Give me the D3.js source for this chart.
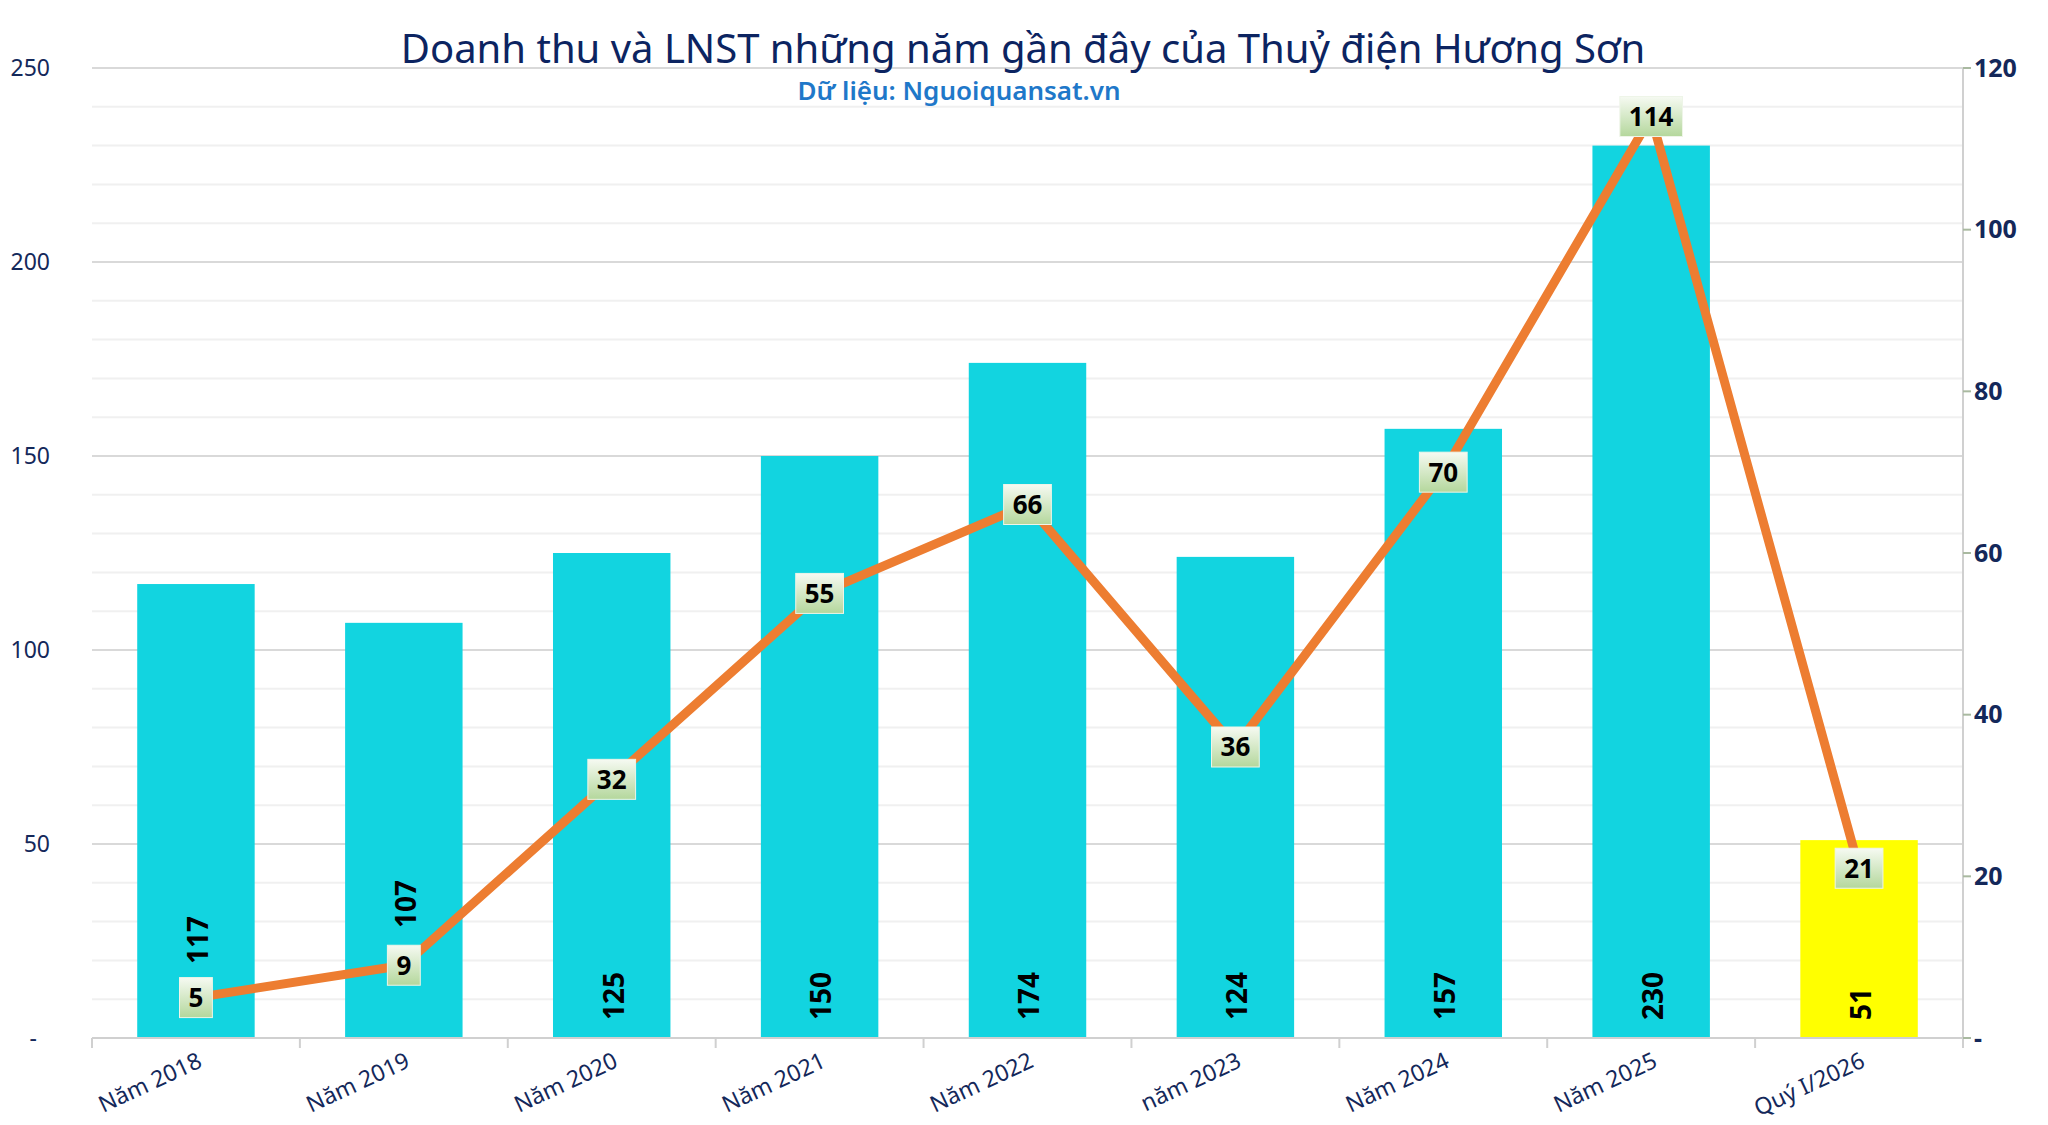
<!DOCTYPE html>
<html>
<head>
<meta charset="utf-8">
<script src="https://cdnjs.cloudflare.com/ajax/libs/d3/7.8.5/d3.min.js"></script>
<style>
  html, body { margin: 0; padding: 0; background: #fff; }
  svg { display: block; font-family: "Noto Sans", sans-serif; }
</style>
</head>
<body>
<div id="chart"></div>
<script>
const width = 2048;
const height = 1125;
const margin = { top: 68, right: 85, bottom: 87, left: 92 };

const categories = ["Năm 2018", "Năm 2019", "Năm 2020", "Năm 2021", "Năm 2022", "năm 2023", "Năm 2024", "Năm 2025", "Quý I/2026"];
const revenue = [117, 107, 125, 150, 174, 124, 157, 230, 51];
const profit = [5, 9, 32, 55, 66, 36, 70, 114, 21];
const leftTicks = [0, 50, 100, 150, 200, 250];
const rightTicks = [0, 20, 40, 60, 80, 100, 120];

// bar labels pushed up where the line labels sit
const barLabelLift = [56, 92, 0, 0, 0, 0, 0, 0, 0];

const innerW = width - margin.left - margin.right;
const innerH = height - margin.top - margin.bottom;

const svg = d3
  .select("#chart")
  .append("svg")
  .attr("width", width)
  .attr("height", height);

const defs = svg.append("defs");
const grad = defs
  .append("linearGradient")
  .attr("id", "labelGrad")
  .attr("x1", 0).attr("y1", 0).attr("x2", 0).attr("y2", 1);
grad.append("stop").attr("offset", "0%").attr("stop-color", "#f6faf2");
grad.append("stop").attr("offset", "100%").attr("stop-color", "#b4d79c");

const g = svg.append("g").attr("transform", `translate(${margin.left},${margin.top})`);

const x = d3.scaleBand().domain(categories).range([0, innerW]).paddingInner(0.435).paddingOuter(0.2175);
const yL = d3.scaleLinear().domain([0, 250]).range([innerH, 0]);
const yR = d3.scaleLinear().domain([0, 120]).range([innerH, 0]);

// gridlines
g.append("g")
  .selectAll("line")
  .data(d3.range(10, 250, 10).filter((v) => v % 50 !== 0))
  .enter()
  .append("line")
  .attr("x1", 0)
  .attr("x2", innerW)
  .attr("y1", (d) => yL(d))
  .attr("y2", (d) => yL(d))
  .attr("stroke", "#f0f0f0")
  .attr("stroke-width", 2);

g.append("g")
  .selectAll("line")
  .data(leftTicks.filter((v) => v > 0))
  .enter()
  .append("line")
  .attr("x1", 0)
  .attr("x2", innerW)
  .attr("y1", (d) => yL(d))
  .attr("y2", (d) => yL(d))
  .attr("stroke", "#d9d9d9")
  .attr("stroke-width", 2);

// left axis labels
g.append("g")
  .selectAll("text")
  .data(leftTicks)
  .enter()
  .append("text")
  .attr("x", (d) => (d === 0 ? -55 : -42))
  .attr("y", (d) => yL(d))
  .attr("dy", "0.35em")
  .attr("text-anchor", "end")
  .attr("fill", "#14285a")
  .style("font-size", "23px")
  .text((d) => (d === 0 ? "-" : d));

// bars
g.selectAll(".bar")
  .data(revenue)
  .enter()
  .append("rect")
  .attr("class", "bar")
  .attr("x", (d, i) => x(categories[i]))
  .attr("y", (d) => yL(d))
  .attr("width", x.bandwidth())
  .attr("height", (d) => innerH - yL(d))
  .attr("fill", (d, i) => (i === categories.length - 1 ? "#ffff00" : "#12d4e0"));

// bar value labels (rotated, inside base)
g.selectAll(".barlabel")
  .data(revenue)
  .enter()
  .append("text")
  .attr("class", "barlabel")
  .attr("transform", (d, i) => `translate(${x(categories[i]) + x.bandwidth() / 2 + 2},${innerH - 18 - barLabelLift[i]}) rotate(-90)`)
  .attr("dy", "0.35em")
  .attr("text-anchor", "start")
  .attr("fill", "#000")
  .style("font-size", "28px")
  .style("font-weight", "bold")
  .text((d) => d);

// x axis
g.append("line")
  .attr("x1", 0)
  .attr("x2", innerW)
  .attr("y1", innerH)
  .attr("y2", innerH)
  .attr("stroke", "#d0d0d0")
  .attr("stroke-width", 2);

g.append("g")
  .selectAll("line")
  .data(d3.range(categories.length + 1))
  .enter()
  .append("line")
  .attr("x1", (i) => (innerW / categories.length) * i)
  .attr("x2", (i) => (innerW / categories.length) * i)
  .attr("y1", innerH)
  .attr("y2", innerH + 10)
  .attr("stroke", "#d0d0d0")
  .attr("stroke-width", 2);

g.append("g")
  .selectAll("text")
  .data(categories)
  .enter()
  .append("text")
  .attr("transform", (d) => `translate(${x(d) + x.bandwidth() / 2 + 4},${innerH + 21}) rotate(-25)`)
  .attr("text-anchor", "end")
  .attr("dy", "0.35em")
  .attr("fill", "#14285a")
  .style("font-size", "23px")
  .text((d) => d);

// right axis
g.append("line")
  .attr("x1", innerW)
  .attr("x2", innerW)
  .attr("y1", 0)
  .attr("y2", innerH)
  .attr("stroke", "#d0d0d0")
  .attr("stroke-width", 2);

g.append("g")
  .selectAll("line")
  .data(rightTicks)
  .enter()
  .append("line")
  .attr("x1", innerW)
  .attr("x2", innerW + 8)
  .attr("y1", (d) => yR(d))
  .attr("y2", (d) => yR(d))
  .attr("stroke", "#a9b9a0")
  .attr("stroke-width", 2);

g.append("g")
  .selectAll("text")
  .data(rightTicks)
  .enter()
  .append("text")
  .attr("x", innerW + 11)
  .attr("y", (d) => yR(d))
  .attr("dy", "0.35em")
  .attr("text-anchor", "start")
  .attr("fill", "#14285a")
  .style("font-size", "25px")
  .style("font-weight", "bold")
  .text((d) => (d === 0 ? "-" : d));

// profit line
const line = d3
  .line()
  .x((d, i) => x(categories[i]) + x.bandwidth() / 2)
  .y((d) => yR(d));

g.append("path")
  .datum(profit)
  .attr("d", line)
  .attr("fill", "none")
  .attr("stroke", "#ed7d31")
  .attr("stroke-width", 9)
  .attr("stroke-linejoin", "round");

// line labels
const labels = g
  .selectAll(".ptlabel")
  .data(profit)
  .enter()
  .append("g")
  .attr("class", "ptlabel")
  .attr("transform", (d, i) => `translate(${x(categories[i]) + x.bandwidth() / 2},${yR(d)})`);

labels
  .append("text")
  .attr("dy", "0.36em")
  .attr("text-anchor", "middle")
  .attr("fill", "#000")
  .style("font-size", "26px")
  .style("font-weight", "bold")
  .text((d) => d);

labels.each(function () {
  const grp = d3.select(this);
  const w = grp.select("text").node().getComputedTextLength() + 18;
  grp
    .insert("rect", "text")
    .attr("x", -w / 2)
    .attr("y", -20)
    .attr("width", w)
    .attr("height", 40)
    .attr("fill", "url(#labelGrad)")
    .attr("stroke", "#eef5e8")
    .attr("stroke-width", 1);
});

// title
svg
  .append("text")
  .attr("x", 1023)
  .attr("y", 63)
  .attr("text-anchor", "middle")
  .attr("fill", "#0c2461")
  .style("font-size", "40px")
  .text("Doanh thu và LNST những năm gần đây của Thuỷ điện Hương Sơn");

svg
  .append("text")
  .attr("x", 959)
  .attr("y", 100)
  .attr("text-anchor", "middle")
  .attr("fill", "#1f78c9")
  .style("font-size", "26px")
  .style("font-weight", "600")
  .text("Dữ liệu: Nguoiquansat.vn");
</script>
</body>
</html>
